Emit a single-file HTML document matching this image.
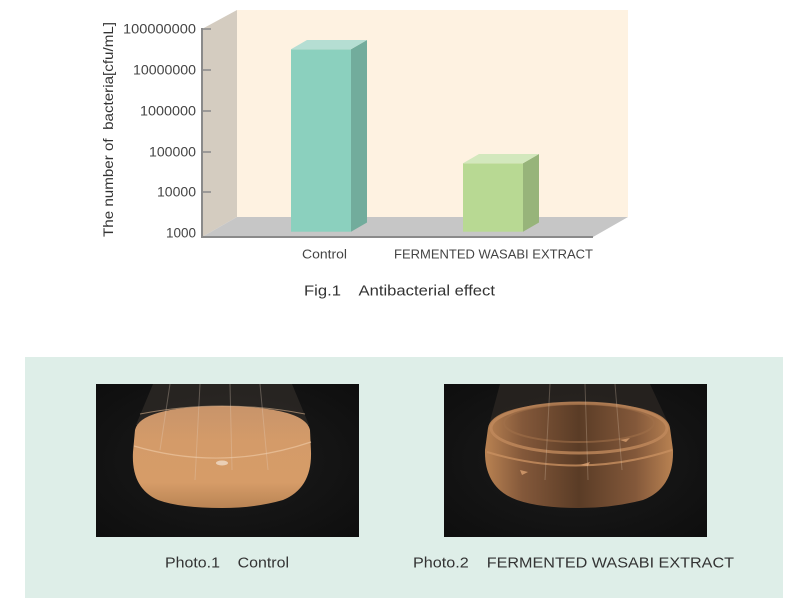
<!DOCTYPE html>
<html><head><meta charset="utf-8"><style>
html,body{margin:0;padding:0;background:#fff;}
svg{display:block;}
text{font-family:"Liberation Sans",Arial,sans-serif;white-space:pre;}
</style></head><body>
<svg width="790" height="609" viewBox="0 0 790 609" xmlns="http://www.w3.org/2000/svg" xml:space="preserve">
<defs>
<linearGradient id="liq1" x1="0" y1="0" x2="0" y2="1">
<stop offset="0" stop-color="#c8946a"/><stop offset="0.35" stop-color="#d49b69"/><stop offset="0.75" stop-color="#d69c68"/><stop offset="1" stop-color="#b98454"/>
</linearGradient>
<linearGradient id="liq2" x1="0" y1="0" x2="1" y2="0">
<stop offset="0" stop-color="#b98252"/><stop offset="0.2" stop-color="#83583a"/><stop offset="0.5" stop-color="#5a3c26"/><stop offset="0.8" stop-color="#83583a"/><stop offset="1" stop-color="#b98252"/>
</linearGradient>
<radialGradient id="bg" cx="0.5" cy="0.5" r="0.7">
<stop offset="0" stop-color="#1c1c1c"/><stop offset="1" stop-color="#0e0e0e"/>
</radialGradient>
</defs>
<rect width="790" height="609" fill="#fff"/>

<!-- chart -->
<polygon points="202,29 237,10 237,217 202,237" fill="#d4ccc0"/>
<rect x="237" y="10" width="391" height="207" fill="#fef2e1"/>
<polygon points="202,237 237,217 628,217 593,237" fill="#c6c6c6"/>
<line x1="202" y1="237" x2="593" y2="237" stroke="#8a8a8a" stroke-width="2"/>
<line x1="202" y1="28" x2="202" y2="238" stroke="#8a8a8a" stroke-width="2"/>
<g stroke="#8a8a8a" stroke-width="1.5">
<line x1="202" y1="29" x2="211" y2="29"/>
<line x1="202" y1="70" x2="211" y2="70"/>
<line x1="202" y1="111" x2="211" y2="111"/>
<line x1="202" y1="152" x2="211" y2="152"/>
<line x1="202" y1="192" x2="211" y2="192"/>
</g>
<g font-size="13.5" fill="#444" text-anchor="end">
<text x="196" y="33.5" textLength="73" lengthAdjust="spacingAndGlyphs">100000000</text>
<text x="196" y="74.5" textLength="63" lengthAdjust="spacingAndGlyphs">10000000</text>
<text x="196" y="115.5" textLength="56" lengthAdjust="spacingAndGlyphs">1000000</text>
<text x="196" y="156.5" textLength="47" lengthAdjust="spacingAndGlyphs">100000</text>
<text x="196" y="196.5" textLength="39" lengthAdjust="spacingAndGlyphs">10000</text>
<text x="196" y="237.5" textLength="30" lengthAdjust="spacingAndGlyphs">1000</text>
</g>
<text transform="translate(113,129.5) rotate(-90)" font-size="14" fill="#333" text-anchor="middle" textLength="215" lengthAdjust="spacingAndGlyphs">The number of  bacteria[cfu/mL]</text>

<!-- control bar -->
<rect x="291" y="49.3" width="60" height="182.4" fill="#8bd0be"/>
<polygon points="351,49.3 367,40 367,222.5 351,231.7" fill="#72ac9c"/>
<polygon points="291,49.3 307,40 367,40 351,49.3" fill="#b5ded3"/>
<!-- wasabi bar -->
<rect x="463" y="163.3" width="60" height="68.4" fill="#b8d993"/>
<polygon points="523,163.3 539,154 539,222.5 523,231.7" fill="#97b47a"/>
<polygon points="463,163.3 479,154 539,154 523,163.3" fill="#d3e8bd"/>

<text x="302" y="258.5" font-size="13" fill="#444" textLength="45" lengthAdjust="spacingAndGlyphs">Control</text>
<text x="394" y="258.5" font-size="13" fill="#444" textLength="199" lengthAdjust="spacingAndGlyphs">FERMENTED WASABI EXTRACT</text>
<text x="304" y="295.5" font-size="15" fill="#333" textLength="191" lengthAdjust="spacingAndGlyphs">Fig.1    Antibacterial effect</text>

<!-- panel -->
<rect x="25" y="357" width="758" height="241" fill="#deeee8"/>

<!-- photo 1 -->
<rect x="96" y="384" width="263" height="153" fill="url(#bg)"/>
<polygon points="153,384 292,384 309,425 136,425" fill="#2a2723" opacity="0.9"/>
<path d="M 135,430 Q 140,407 222,406 Q 305,407 310,430 L 311,452 Q 312,488 283,500 Q 255,508 222,508 Q 180,508 158,500 Q 131,488 133,452 Z" fill="url(#liq1)"/>
<path d="M 134,446 Q 222,472 311,442" fill="none" stroke="#e8c09a" stroke-width="1.2" opacity="0.8"/>
<path d="M 140,414 Q 222,398 305,414" fill="none" stroke="#dcb48e" stroke-width="1" opacity="0.6"/>
<g stroke="#e6d2c0" stroke-width="1" opacity="0.3">
<line x1="200" y1="384" x2="195" y2="480"/>
<line x1="230" y1="384" x2="232" y2="470"/>
<line x1="260" y1="384" x2="268" y2="470"/>
<line x1="170" y1="384" x2="160" y2="450"/>
</g>
<ellipse cx="222" cy="463" rx="6" ry="2.5" fill="#efdcc8" opacity="0.8"/>

<!-- photo 2 -->
<rect x="444" y="384" width="263" height="153" fill="url(#bg)"/>
<polygon points="500,384 650,384 669,425 489,425" fill="#282420" opacity="0.9"/>
<path d="M 488,428 Q 492,404 579,402 Q 666,404 670,428 L 673,450 Q 674,488 643,500 Q 612,508 579,508 Q 540,508 517,500 Q 484,488 485,450 Z" fill="url(#liq2)"/>
<ellipse cx="579" cy="428" rx="88" ry="25" fill="none" stroke="#c08a5c" stroke-width="3" opacity="0.8"/>
<ellipse cx="579" cy="423" rx="75" ry="19" fill="none" stroke="#a0704a" stroke-width="2" opacity="0.6"/>
<path d="M 487,452 Q 579,480 672,450" fill="none" stroke="#c89060" stroke-width="2" opacity="0.8"/>
<path d="M 580,465 l 10,-3 l -2,4 z M 520,470 l 8,2 l -6,3 z M 620,440 l 10,-2 l -4,4 z" fill="#d9a070" opacity="0.8"/>
<g stroke="#d8c0a8" stroke-width="1" opacity="0.3">
<line x1="550" y1="384" x2="545" y2="480"/>
<line x1="585" y1="384" x2="588" y2="480"/>
<line x1="615" y1="384" x2="622" y2="470"/>
</g>

<text x="165" y="567.5" font-size="15" fill="#333" textLength="124" lengthAdjust="spacingAndGlyphs">Photo.1    Control</text>
<text x="413" y="567.5" font-size="15" fill="#333" textLength="321" lengthAdjust="spacingAndGlyphs">Photo.2    FERMENTED WASABI EXTRACT</text>
</svg>
</body></html>
